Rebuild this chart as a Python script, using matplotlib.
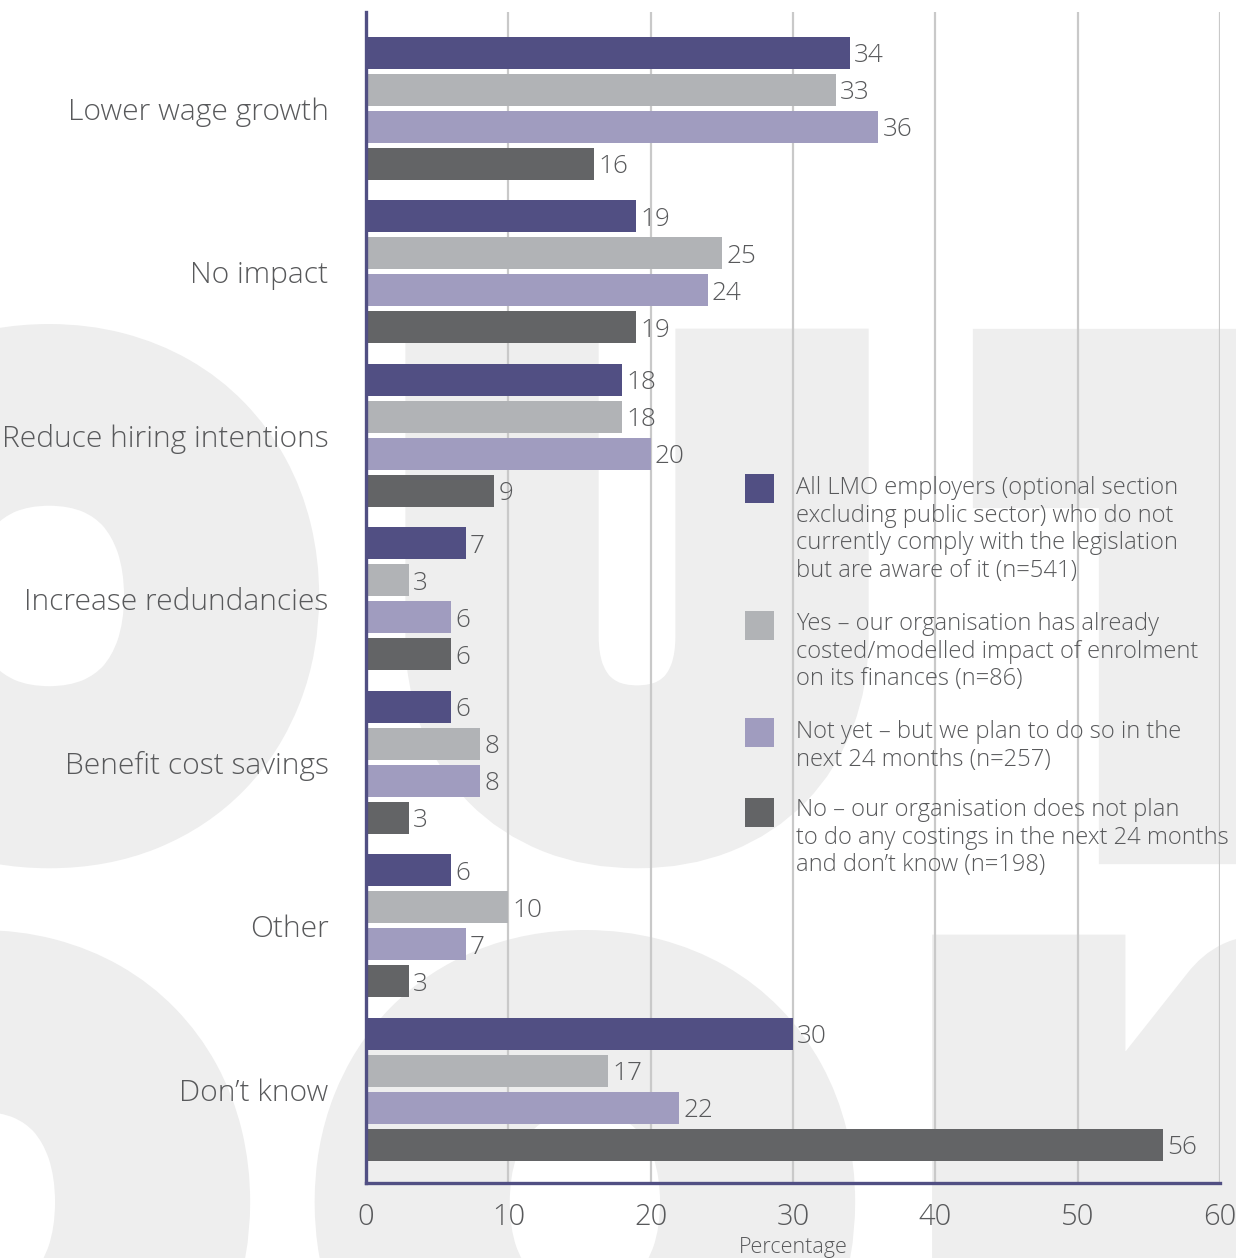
import matplotlib
matplotlib.use("Agg")
import matplotlib.pyplot as plt
import matplotlib.patheffects as pe
from matplotlib.patches import Rectangle

# ---- data -------------------------------------------------------------
categories = [
    "Lower wage growth",
    "No impact",
    "Reduce hiring intentions",
    "Increase redundancies",
    "Benefit cost savings",
    "Other",
    "Don\u2019t know",
]
all_lmo = [34, 19, 18, 7, 6, 6, 30]
costed = [33, 25, 18, 3, 8, 10, 17]
plan_to = [36, 24, 20, 6, 8, 7, 22]
no_plan = [16, 19, 9, 6, 3, 3, 56]

series_labels = [
    ["All LMO employers (optional section",
     "excluding public sector) who do not",
     "currently comply with the legislation",
     "but are aware of it (n=541)"],
    ["Yes \u2013 our organisation has already",
     "costed/modelled impact of enrolment",
     "on its finances (n=86)"],
    ["Not yet \u2013 but we plan to do so in the",
     "next 24 months (n=257)"],
    ["No \u2013 our organisation does not plan",
     "to do any costings in the next 24 months",
     "and don\u2019t know (n=198)"],
]
x_ticks = [0, 10, 20, 30, 40, 50, 60]
x_label = "Percentage"

# ---- style ------------------------------------------------------------
colors = ["#514f83", "#b1b3b6", "#a09cbf", "#636466"]
text_color = "#58595b"
axis_color = "#514f83"
grid_color = "#c9c9c9"
wm_color = "#eeeeee"
FONT = ["Open Sans", "DejaVu Sans"]
WEIGHT = "light"

W, H = 1236, 1258
fig = plt.figure(figsize=(W / 100, H / 100), dpi=100)
fig.patch.set_facecolor("white")


def fx(px):
    return px / W


def fy(py):
    return 1 - py / H


# large pale lettering behind the chart (thickened with an outline stroke)
wm = dict(color=wm_color, fontsize=418, fontweight="bold", family=["Lato", "DejaVu Sans"],
          ha="center", va="baseline", zorder=-10,
          path_effects=[pe.withStroke(linewidth=83, foreground=wm_color, joinstyle="miter")])
for ch, cx in [("O", 49), ("U", 637), ("T", 1195)]:
    fig.text(fx(cx), fy(806), ch, **wm)
for ch, cx in [("O", -20), ("O", 585), ("K", 1142)]:
    fig.text(fx(cx), fy(1412), ch, **wm)

# ---- chart ------------------------------------------------------------
ax = fig.add_axes([fx(366), fy(1183), fx(1220) - fx(366), fy(12) - fy(1183)])
ax.set_facecolor("none")

series = [all_lmo, costed, plan_to, no_plan]
step = 0.2263
bar_h = 0.1957
for j, (vals, col) in enumerate(zip(series, colors)):
    for i, v in enumerate(vals):
        y = i + (j - 1.5) * step
        ax.barh(y, v, height=bar_h, color=col, zorder=3)
        ax.text(v + 0.3, y + 0.057, str(v), ha="left", va="baseline", fontsize=18.8,
                color=text_color, family=FONT, fontweight=WEIGHT, zorder=4)

ax.set_xlim(0, 60)
ax.set_ylim(6.572, -0.590)
ax.set_xticks(x_ticks)
ax.set_xticklabels([str(t) for t in x_ticks], fontsize=21, color=text_color,
                   family=FONT, fontweight=WEIGHT)
ax.set_yticks(range(len(categories)))
ax.set_yticklabels(categories, fontsize=21.6, color=text_color, family=FONT,
                   fontweight=WEIGHT)
ax.tick_params(axis="both", length=0)
ax.tick_params(axis="y", pad=27)
ax.tick_params(axis="x", pad=14)
ax.xaxis.grid(True, color=grid_color, linewidth=1.6, zorder=1)
ax.set_axisbelow(True)
for s in ["top", "right"]:
    ax.spines[s].set_visible(False)
for s in ["left", "bottom"]:
    ax.spines[s].set_color(axis_color)
    ax.spines[s].set_linewidth(2.4)
    ax.spines[s].set_zorder(5)
ax.set_xlabel(x_label, fontsize=15.5, color=text_color, family=FONT, fontweight=WEIGHT,
              labelpad=4)

# ---- legend -----------------------------------------------------------
square_tops = [474, 611, 718, 798]
first_baselines = [494, 630, 738, 816]
line_gap = 27.7
for col, top, base, lines in zip(colors, square_tops, first_baselines, series_labels):
    fig.add_artist(Rectangle((fx(745), fy(top + 29)), fx(29), fy(top) - fy(top + 29),
                             transform=fig.transFigure, facecolor=col, edgecolor="none",
                             zorder=6))
    for k, line in enumerate(lines):
        fig.text(fx(796), fy(base + k * line_gap), line, ha="left", va="baseline",
                 fontsize=17.1, color=text_color, family=FONT, fontweight=WEIGHT, zorder=6)

fig.savefig("out.png", dpi=100)
